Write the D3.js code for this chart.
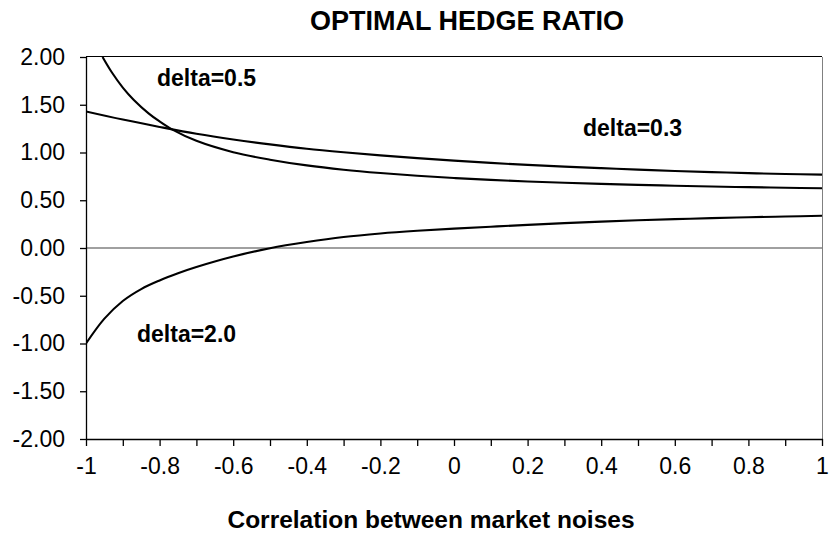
<!DOCTYPE html>
<html>
<head>
<meta charset="utf-8">
<script src="https://cdn.jsdelivr.net/npm/d3@7/dist/d3.min.js"></script>
<style>
  html, body { margin: 0; padding: 0; background: #fff; }
  svg { display: block; font-family: Arial, "Liberation Sans", sans-serif; }
</style>
</head>
<body>
<svg id="chart" width="830" height="537"></svg>
<script>
// ---- data ----
const title = "OPTIMAL HEDGE RATIO";
const xAxisTitle = "Correlation between market noises";
const xTickLabels = [-1, -0.8, -0.6, -0.4, -0.2, 0, 0.2, 0.4, 0.6, 0.8, 1];
const xMinorTicks = [-1, -0.9, -0.8, -0.7, -0.6, -0.5, -0.4, -0.3, -0.2, -0.1, 0, 0.1, 0.2, 0.3, 0.4, 0.5, 0.6, 0.7, 0.8, 0.9, 1];
const yTickLabels = [-2, -1.5, -1, -0.5, 0, 0.5, 1, 1.5, 2];

const rhoD03 = [-1, -0.9, -0.8, -0.7, -0.6, -0.5, -0.4, -0.3, -0.2, -0.1, 0, 0.1, 0.2, 0.3, 0.4, 0.5, 0.6, 0.7, 0.8, 0.9, 1];
const hD03   = [1.43, 1.345, 1.268, 1.196, 1.136, 1.085, 1.04, 1.003, 0.97, 0.941, 0.915, 0.891, 0.87, 0.852, 0.836, 0.821, 0.807, 0.795, 0.784, 0.775, 0.768];

const rhoD05 = [-0.955, -0.93, -0.9, -0.87, -0.83, -0.8, -0.765, -0.7, -0.6, -0.5, -0.4, -0.3, -0.2, -0.1, 0, 0.1, 0.2, 0.3, 0.4, 0.5, 0.6, 0.7, 0.8, 0.9, 1];
const hD05   = [2.0, 1.84, 1.68, 1.55, 1.41, 1.325, 1.24, 1.122, 1.003, 0.925, 0.865, 0.82, 0.785, 0.756, 0.733, 0.713, 0.697, 0.683, 0.671, 0.661, 0.652, 0.644, 0.637, 0.631, 0.626];

const rhoD20 = [-1, -0.95, -0.9, -0.85, -0.8, -0.75, -0.7, -0.6, -0.5, -0.4, -0.3, -0.2, -0.1, 0, 0.1, 0.2, 0.3, 0.4, 0.5, 0.6, 0.7, 0.8, 0.9, 1];
const hD20   = [-1.0, -0.74, -0.555, -0.43, -0.34, -0.265, -0.2, -0.09, -0.003, 0.062, 0.115, 0.152, 0.18, 0.203, 0.223, 0.242, 0.26, 0.276, 0.29, 0.302, 0.313, 0.322, 0.33, 0.337];

const seriesNames = ["delta=0.3", "delta=0.5", "delta=2.0"];

// ---- layout ----
const svg = d3.select("#chart");
const L = 86, R = 822, T = 57, B = 439;
const x = d3.scaleLinear().domain([-1, 1]).range([L, R]);
const y = d3.scaleLinear().domain([-2, 2]).range([B, T]);

// plot border (top black, right grey)
svg.append("line").attr("x1", L).attr("x2", R).attr("y1", T - 0.5).attr("y2", T - 0.5)
  .attr("stroke", "#000").attr("stroke-width", 1);
svg.append("line").attr("x1", R + 0.5).attr("x2", R + 0.5).attr("y1", T).attr("y2", B)
  .attr("stroke", "#808080").attr("stroke-width", 1);

// zero line
svg.append("line").attr("x1", L).attr("x2", R).attr("y1", y(0)).attr("y2", y(0))
  .attr("stroke", "#808080").attr("stroke-width", 1.3);

// clip
svg.append("clipPath").attr("id", "clip").append("rect")
  .attr("x", L).attr("y", T - 1).attr("width", R - L).attr("height", B - T + 1);

// curves
const line = d3.line().x(d => x(d[0])).y(d => y(d[1])).curve(d3.curveCatmullRom.alpha(0.5));
const curves = [
  d3.zip(rhoD03, hD03),
  d3.zip(rhoD05, hD05),
  d3.zip(rhoD20, hD20)
];
svg.append("g").attr("clip-path", "url(#clip)")
  .selectAll("path").data(curves).join("path")
  .attr("d", line).attr("fill", "none").attr("stroke", "#000").attr("stroke-width", 2.1);

// y axis
const yAxis = d3.axisLeft(y).tickValues(yTickLabels).tickSize(6).tickPadding(15)
  .tickFormat(d => d.toFixed(2));
const gy = svg.append("g").attr("transform", `translate(${L},0)`).call(yAxis);
gy.select(".domain").attr("stroke", "#000").attr("stroke-width", 1.3).attr("d", `M0.5,${T}V${B}`);
gy.selectAll(".tick line").attr("stroke", "#000").attr("stroke-width", 1.3);
gy.selectAll(".tick text").attr("font-size", 23).attr("fill", "#000")
  .attr("font-family", "Arial, 'Liberation Sans', sans-serif");

// x axis
const xAxis = d3.axisBottom(x).tickValues(xMinorTicks).tickSize(7).tickPadding(12)
  .tickFormat(d => xTickLabels.some(v => Math.abs(v - d) < 1e-9) ? String(+d.toFixed(1)) : "");
const gx = svg.append("g").attr("transform", `translate(0,${B})`).call(xAxis);
gx.select(".domain").attr("stroke", "#000").attr("stroke-width", 1.3).attr("d", `M${L},0.5H${R + 1}`);
gx.selectAll(".tick line").attr("stroke", "#000").attr("stroke-width", 1.3);
gx.selectAll(".tick text").attr("font-size", 23).attr("fill", "#000")
  .attr("font-family", "Arial, 'Liberation Sans', sans-serif");

// title
svg.append("text").attr("x", 467).attr("y", 30).attr("text-anchor", "middle")
  .attr("font-size", 27).attr("font-weight", "bold").text(title);

// x axis title
svg.append("text").attr("x", 431).attr("y", 528).attr("text-anchor", "middle")
  .attr("font-size", 24.5).attr("font-weight", "bold").text(xAxisTitle);

// series labels
const labelPos = [[583, 136], [157, 86], [137, 342]];
svg.selectAll("text.lab").data(seriesNames).join("text").attr("class", "lab")
  .attr("x", (d, i) => labelPos[i][0]).attr("y", (d, i) => labelPos[i][1])
  .attr("font-size", 23).attr("font-weight", "bold").text(d => d);
</script>
</body>
</html>
